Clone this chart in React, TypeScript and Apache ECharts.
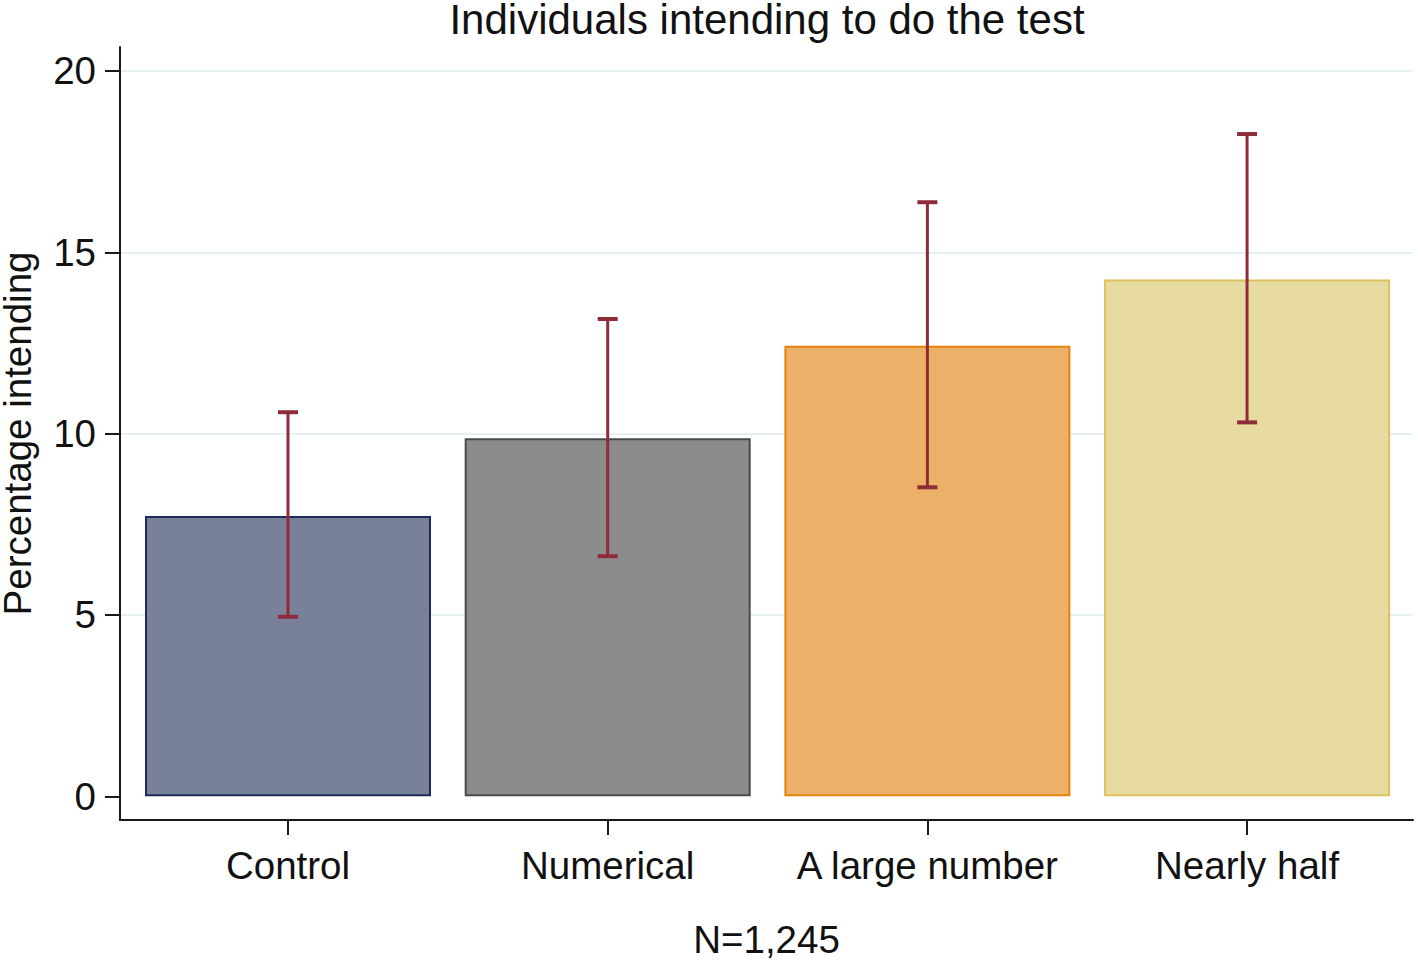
import React, { useEffect, useRef } from "react";
import * as echarts from "echarts";

const categories = ["Control", "Numerical", "A large number", "Nearly half"];
const positions = [1, 2, 3, 4];
const means = [7.73, 9.87, 12.42, 14.25];
const ciLow = [4.95, 6.62, 8.52, 10.31];
const ciHigh = [10.59, 13.16, 16.38, 18.26];
const yTicks = [0, 5, 10, 15, 20];
const gridTicks = [5, 10, 15, 20];
const fillColors = ["#78809a", "#8c8c8c", "#ecb168", "#e8dba2"];
const borderColors = ["#1c2b5a", "#4a4a4a", "#e8820c", "#dcc25c"];

const FONT = "'Liberation Sans', Arial, sans-serif";
const Y_MIN = -0.653;
const Y_MAX = 20.66;

export default function App() {
  const ref = useRef<HTMLDivElement>(null);
  useEffect(() => {
    document.body.style.margin = "0";
    const chart = echarts.init(ref.current!, null, { renderer: "svg" });
    const barData = positions.map((p, i) => ({
      value: [p, means[i]],
      itemStyle: { color: fillColors[i], borderColor: borderColors[i], borderWidth: 2 },
    }));
    const errData = positions.map((p, i) => [p, ciLow[i], ciHigh[i]]);
    chart.setOption({
      animation: false,
      backgroundColor: "#ffffff",
      textStyle: { fontFamily: FONT },
      title: {
        text: "Individuals intending to do the test",
        left: 767,
        textAlign: "center",
        top: 1,
        padding: 0,
        textStyle: { fontFamily: FONT, fontSize: 42, lineHeight: 36, fontWeight: "normal", color: "#111" },
      },
      grid: { left: 120, right: 5, top: 47, bottom: 141, containLabel: false, outerBoundsMode: "none" },
      xAxis: {
        type: "value",
        min: 0.4745,
        max: 4.519,
        name: "N=1,245",
        nameLocation: "middle",
        nameGap: 100,
        nameTextStyle: { fontFamily: FONT, fontSize: 38.5, color: "#111" },
        axisLine: { show: true, onZero: false, lineStyle: { color: "#1a1a1a", width: 2 } },
        axisTick: { show: true, customValues: positions, length: 15, lineStyle: { color: "#1a1a1a", width: 2 } },
        axisLabel: {
          customValues: positions,
          formatter: (v: number) => categories[Math.round(v) - 1] ?? "",
          fontFamily: FONT,
          fontSize: 38.5,
          color: "#111",
          margin: 26,
        },
        splitLine: { show: false },
      },
      yAxis: [
        {
          type: "value",
          min: Y_MIN,
          max: Y_MAX,
          name: "Percentage intending",
          nameLocation: "middle",
          nameGap: 83,
          nameTextStyle: { fontFamily: FONT, fontSize: 38.5, color: "#111" },
          axisLine: { show: true, onZero: false, lineStyle: { color: "#1a1a1a", width: 2 } },
          axisTick: { show: true, customValues: yTicks, length: 15, lineStyle: { color: "#1a1a1a", width: 2 } },
          axisLabel: {
            customValues: yTicks,
            fontFamily: FONT,
            fontSize: 38.5,
            color: "#111",
            margin: 24,
          },
          splitLine: { show: false },
        },
        {
          type: "value",
          min: Y_MIN,
          max: Y_MAX,
          position: "left",
          axisLine: { show: false },
          axisTick: { show: false, customValues: gridTicks },
          axisLabel: { show: false, customValues: gridTicks },
          splitLine: { show: true, lineStyle: { color: "#e6eff1", width: 2 } },
        },
      ],
      series: [
        {
          type: "bar",
          data: barData,
          barWidth: 286,
          yAxisIndex: 0,
          z: 2,
        },
        {
          type: "custom",
          z: 5,
          yAxisIndex: 0,
          data: errData,
          renderItem: (params: any, api: any) => {
            const x = api.value(0);
            const lo = api.coord([x, api.value(1)]);
            const hi = api.coord([x, api.value(2)]);
            const half = 10;
            const style = { stroke: "#8e2c3a", lineWidth: 3 };
            return {
              type: "group",
              children: [
                { type: "line", shape: { x1: hi[0], y1: hi[1], x2: lo[0], y2: lo[1] }, style },
                { type: "line", shape: { x1: hi[0] - half, y1: hi[1], x2: hi[0] + half, y2: hi[1] }, style: { ...style, lineWidth: 4 } },
                { type: "line", shape: { x1: lo[0] - half, y1: lo[1], x2: lo[0] + half, y2: lo[1] }, style: { ...style, lineWidth: 4 } },
              ],
            };
          },
        },
      ],
    });
    return () => chart.dispose();
  }, []);
  return <div ref={ref} style={{ width: 1418, height: 961 }} />;
}
